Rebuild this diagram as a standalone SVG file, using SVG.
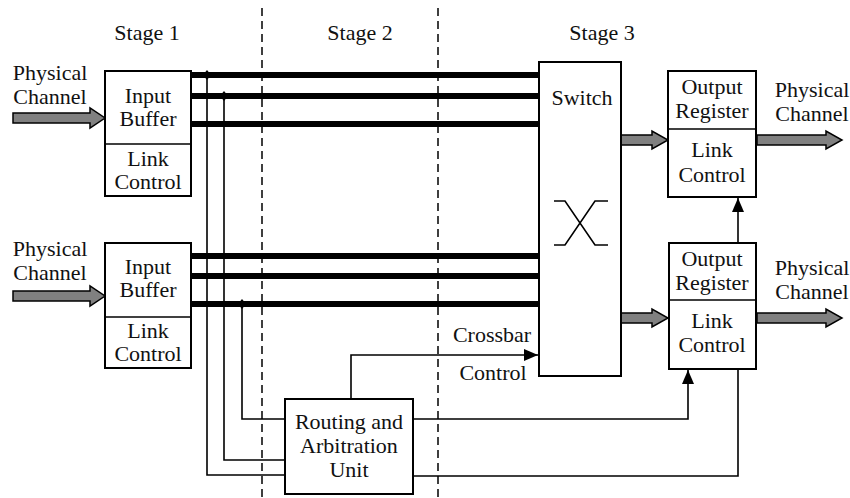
<svg xmlns="http://www.w3.org/2000/svg" width="850" height="498" viewBox="0 0 850 498">
<defs>
<style>
.t{fill:#111;text-anchor:middle;font-size:22px}
.box{fill:#fff;stroke:#000;stroke-width:2}
.bus{stroke:#000;stroke-width:6;fill:none}
.ln{stroke:#000;stroke-width:1.6;fill:none}
.dash{stroke:#000;stroke-width:1.5;stroke-dasharray:8,5;fill:none}
.garrow{fill:#808080;stroke:#000;stroke-width:1.5}
.dot{fill:#000}
</style>
<marker id="ahb" viewBox="0 0 14 12" refX="14" refY="6" markerWidth="14" markerHeight="12" markerUnits="userSpaceOnUse" orient="auto">
<path d="M0,0 L14,6 L0,12 Z" fill="#000"/>
</marker>
</defs>
<rect width="850" height="498" fill="#fff"/>

<g id="stages">
<text class="t" x="147" y="40" style="font-family:'Liberation Serif',serif !important">Stage 1</text>
<text class="t" x="360" y="40" style="font-family:'Liberation Serif',serif !important">Stage 2</text>
<text class="t" x="602" y="40" style="font-family:'Liberation Serif',serif !important">Stage 3</text>
<line class="dash" x1="262" y1="8" x2="262" y2="498"/>
<line class="dash" x1="438" y1="8" x2="438" y2="498"/>
</g>

<g id="connectors">
<line class="bus" x1="191" y1="75" x2="540" y2="75"/>
<line class="bus" x1="191" y1="96" x2="540" y2="96"/>
<line class="bus" x1="191" y1="124" x2="540" y2="124"/>
<line class="bus" x1="191" y1="256" x2="540" y2="256"/>
<line class="bus" x1="191" y1="276" x2="540" y2="276"/>
<line class="bus" x1="191" y1="304" x2="540" y2="304"/>
<polyline class="ln" points="207,75 207,475 285,475"/>
<polyline class="ln" points="224,96 224,460 285,460"/>
<polyline class="ln" points="242,304 242,419 285,419"/>
<path class="dot" d="M207,70 L211,75 L207,80 L203,75 Z"/>
<path class="dot" d="M224,91 L228,96 L224,101 L220,96 Z"/>
<path class="dot" d="M242,299 L246,304 L242,309 L238,304 Z"/>
<polyline class="ln" points="351,399 351,355 538,355" marker-end="url(#ahb)"/>
<polyline class="ln" points="413,419 688,419 688,370" marker-end="url(#ahb)"/>
<polyline class="ln" points="413,476 738,476 738,369"/>
<line class="ln" x1="738" y1="243" x2="738" y2="198" marker-end="url(#ahb)"/>
<path class="garrow" d="M13,113 H90 V108 L105,118 L90,128 V123 H13 Z"/>
<path class="garrow" d="M13,291 H90 V286 L105,296 L90,306 V301 H13 Z"/>
<path class="garrow" d="M621,135 H652 V131 L668,140 L652,149 V145 H621 Z"/>
<path class="garrow" d="M621,313 H652 V309 L668,318 L652,327 V323 H621 Z"/>
<path class="garrow" d="M757,135 H826 V131 L842,140 L826,149 V145 H757 Z"/>
<path class="garrow" d="M757,313 H826 V309 L842,318 L826,327 V323 H757 Z"/>
</g>

<g id="in-labels">
<text class="t" x="50" y="80" style="font-family:'Liberation Serif',serif !important">Physical</text>
<text class="t" x="50" y="104" style="font-family:'Liberation Serif',serif !important">Channel</text>
<text class="t" x="50" y="256" style="font-family:'Liberation Serif',serif !important">Physical</text>
<text class="t" x="50" y="280" style="font-family:'Liberation Serif',serif !important">Channel</text>
</g>

<g id="input1">
<rect class="box" x="105" y="71" width="86" height="125"/>
<line class="ln" x1="105" y1="144" x2="191" y2="144" stroke-width="2"/>
<text class="t" x="148" y="103" style="font-family:'Liberation Serif',serif !important">Input</text>
<text class="t" x="148" y="126" style="font-family:'Liberation Serif',serif !important">Buffer</text>
<text class="t" x="148" y="166" style="font-family:'Liberation Serif',serif !important">Link</text>
<text class="t" x="148" y="189" style="font-family:'Liberation Serif',serif !important">Control</text>
</g>

<g id="input2">
<rect class="box" x="105" y="243" width="86" height="125"/>
<line class="ln" x1="105" y1="317" x2="191" y2="317" stroke-width="2"/>
<text class="t" x="148" y="274" style="font-family:'Liberation Serif',serif !important">Input</text>
<text class="t" x="148" y="297" style="font-family:'Liberation Serif',serif !important">Buffer</text>
<text class="t" x="148" y="338" style="font-family:'Liberation Serif',serif !important">Link</text>
<text class="t" x="148" y="361" style="font-family:'Liberation Serif',serif !important">Control</text>
</g>

<g id="switch">
<rect class="box" x="539" y="62" width="82" height="314"/>
<text class="t" x="582" y="105" style="font-family:'Liberation Serif',serif !important">Switch</text>
<polyline class="ln" points="554,201 565,201 595,245 608,245"/>
<polyline class="ln" points="554,245 565,245 595,201 608,201"/>
</g>

<g id="crossbar-label">
<text class="t" x="492" y="342" style="font-family:'Liberation Serif',serif !important">Crossbar</text>
<text class="t" x="493" y="380" style="font-family:'Liberation Serif',serif !important">Control</text>
</g>

<g id="routing">
<rect class="box" x="285" y="399" width="128" height="95"/>
<text class="t" x="349" y="429" style="font-family:'Liberation Serif',serif !important">Routing and</text>
<text class="t" x="349" y="453" style="font-family:'Liberation Serif',serif !important">Arbitration</text>
<text class="t" x="349" y="477" style="font-family:'Liberation Serif',serif !important">Unit</text>
</g>

<g id="output1">
<rect class="box" x="668" y="71" width="88" height="126"/>
<line class="ln" x1="668" y1="129" x2="756" y2="129" stroke-width="2"/>
<text class="t" x="712" y="94" style="font-family:'Liberation Serif',serif !important">Output</text>
<text class="t" x="712" y="118" style="font-family:'Liberation Serif',serif !important">Register</text>
<text class="t" x="712" y="157" style="font-family:'Liberation Serif',serif !important">Link</text>
<text class="t" x="712" y="182" style="font-family:'Liberation Serif',serif !important">Control</text>
</g>

<g id="output2">
<rect class="box" x="669" y="243" width="87" height="126"/>
<line class="ln" x1="669" y1="300" x2="756" y2="300" stroke-width="2"/>
<text class="t" x="712" y="266" style="font-family:'Liberation Serif',serif !important">Output</text>
<text class="t" x="712" y="290" style="font-family:'Liberation Serif',serif !important">Register</text>
<text class="t" x="712" y="328" style="font-family:'Liberation Serif',serif !important">Link</text>
<text class="t" x="712" y="352" style="font-family:'Liberation Serif',serif !important">Control</text>
</g>

<g id="out-labels">
<text class="t" x="812" y="97" style="font-family:'Liberation Serif',serif !important">Physical</text>
<text class="t" x="812" y="121" style="font-family:'Liberation Serif',serif !important">Channel</text>
<text class="t" x="812" y="275" style="font-family:'Liberation Serif',serif !important">Physical</text>
<text class="t" x="812" y="299" style="font-family:'Liberation Serif',serif !important">Channel</text>
</g>
</svg>
